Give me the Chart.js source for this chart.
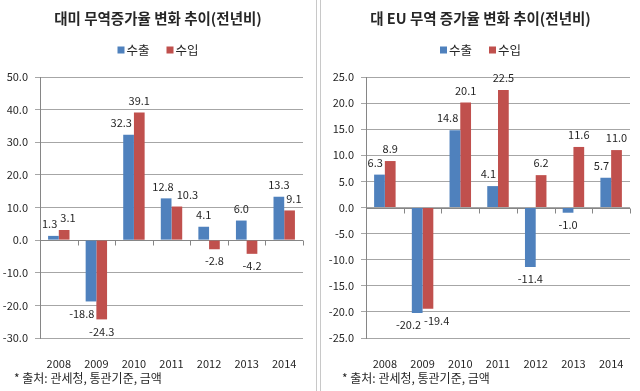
<!DOCTYPE html>
<html>
<head>
<meta charset="utf-8">
<script src="https://cdn.jsdelivr.net/npm/chart.js@4.4.0/dist/chart.umd.min.js"></script>
<style>
body { margin: 0; background: #fff; width: 640px; height: 391px; overflow: hidden; position: relative; font-family: 'Noto Sans CJK KR', sans-serif; }
#left { position: absolute; left: 0; top: 0; }
#right { position: absolute; left: 321px; top: 0; }
.line { position: absolute; top: 0; height: 391px; width: 1px; background: #c8c8c8; }
.note { position: absolute; top: 370px; font-size: 12px; line-height: 16px; color: #262626; white-space: nowrap; }
</style>
</head>
<body>
<canvas id="left" width="316" height="391"></canvas>
<canvas id="right" width="319" height="391"></canvas>
<div class="line" style="left:316px"></div>
<div class="line" style="left:320px"></div>
<div class="note" style="left:14px">* 출처: 관세청, 통관기준, 금액</div>
<div class="note" style="left:342px">* 출처: 관세청, 통관기준, 금액</div>
<script>
var years = ['2008', '2009', '2010', '2011', '2012', '2013', '2014'];
var seriesNames = ['수출', '수입'];
var usExport = [1.3, -18.8, 32.3, 12.8, 4.1, 6.0, 13.3];
var usImport = [3.1, -24.3, 39.1, 10.3, -2.8, -4.2, 9.1];
var euExport = [6.3, -20.2, 14.8, 4.1, -11.4, -1.0, 5.7];
var euImport = [8.9, -19.4, 20.1, 22.5, 6.2, 11.6, 11.0];
var usAxis = [-30, 50, 10];
var euAxis = [-25, 25, 5];

var fontName = '"Noto Sans CJK KR", sans-serif';

// title + legend drawn on top of the canvas
var headPlugin = {
  id: 'head',
  afterDraw: function(chart, args, opts) {
    var ctx = chart.ctx;
    var cx = chart.width / 2;
    ctx.save();
    ctx.fillStyle = '#262626';
    ctx.font = 'bold 14.5px ' + fontName;
    ctx.textAlign = 'center';
    ctx.textBaseline = 'middle';
    ctx.fillText(opts.title, cx, 18);

    ctx.font = '12.5px ' + fontName;
    var items = chart.data.datasets.map(function(d) { return { text: d.label, color: d.backgroundColor }; });
    var box = 7, gap = 2, space = 17;
    var widths = items.map(function(it) { return box + gap + ctx.measureText(it.text).width; });
    var total = widths.reduce(function(a, b) { return a + b; }, 0) + space * (items.length - 1);
    var x = cx - total / 2;
    ctx.textAlign = 'left';
    items.forEach(function(it, i) {
      ctx.fillStyle = it.color;
      ctx.fillRect(x, 50 - box / 2, box, box);
      ctx.fillStyle = '#262626';
      ctx.fillText(it.text, x + box + gap, 50);
      x += widths[i] + space;
    });
    ctx.restore();
  }
};

// zero line with small tick marks between categories
var zeroAxis = {
  id: 'zeroAxis',
  beforeDatasetsDraw: function(chart) {
    var ctx = chart.ctx, a = chart.chartArea;
    var y0 = Math.round(chart.scales.y.getPixelForValue(0)) + 0.5;
    var n = chart.data.labels.length;
    ctx.save();
    ctx.strokeStyle = '#868686';
    ctx.lineWidth = 1;
    ctx.beginPath();
    ctx.moveTo(a.left, y0);
    ctx.lineTo(a.right, y0);
    for (var i = 0; i <= n; i++) {
      var px = Math.round(a.left + (a.right - a.left) * i / n) + 0.5;
      ctx.moveTo(px, y0);
      ctx.lineTo(px, y0 + 5);
    }
    ctx.stroke();
    ctx.restore();
  }
};

// value labels at bar ends, pushed aside if they sit on the other bar or label
var valueLabels = {
  id: 'valueLabels',
  afterDatasetsDraw: function(chart) {
    var ctx = chart.ctx;
    ctx.save();
    ctx.font = '11px ' + fontName;
    ctx.fillStyle = '#262626';
    ctx.textAlign = 'center';
    ctx.textBaseline = 'middle';
    var h = 12;
    var metas = chart.data.datasets.map(function(d, i) { return chart.getDatasetMeta(i); });
    var n = chart.data.labels.length;
    for (var j = 0; j < n; j++) {
      var boxes = metas.map(function(meta, di) {
        var bar = meta.data[j];
        var v = chart.data.datasets[di].data[j];
        var txt = v.toFixed(1);
        var w = ctx.measureText(txt).width;
        var cy = v >= 0 ? bar.y - 6 - h / 2 : bar.y + 6 + h / 2;
        var cx = bar.x;
        metas.forEach(function(other, oi) {
          if (oi === di) return;
          var ob = other.data[j];
          var top = Math.min(ob.y, ob.base), bottom = Math.max(ob.y, ob.base);
          var half = ob.width / 2;
          var overlapY = cy + h / 2 > top && cy - h / 2 < bottom;
          var overlapX = cx + w / 2 > ob.x - half && cx - w / 2 < ob.x + half;
          if (overlapY && overlapX) {
            cx = ob.x < bar.x ? ob.x + half + w / 2 + 2 : ob.x - half - w / 2 - 2;
          }
        });
        return { txt: txt, w: w, cx: cx, cy: cy };
      });
      // two labels of one year that collide: spread them apart
      var a = boxes[0], b = boxes[1];
      if (Math.abs(a.cy - b.cy) < h && b.cx - a.cx < (a.w + b.w) / 2 + 3) {
        var need = (a.w + b.w) / 2 + 3 - (b.cx - a.cx);
        a.cx -= need / 2;
        b.cx += need / 2;
      }
      boxes.forEach(function(bx) { ctx.fillText(bx.txt, bx.cx, bx.cy); });
    }
    ctx.restore();
  }
};

function makeChart(id, exp, imp, axis, title, yWidth, rightPad) {
  return new Chart(document.getElementById(id), {
    type: 'bar',
    data: {
      labels: years,
      datasets: [
        { label: seriesNames[0], data: exp, backgroundColor: '#4F81BD' },
        { label: seriesNames[1], data: imp, backgroundColor: '#C0504D' }
      ]
    },
    options: {
      responsive: false,
      animation: false,
      layout: { padding: { top: 77, right: rightPad, bottom: 23, left: 0 } },
      datasets: { bar: { barPercentage: 1, categoryPercentage: 0.57 } },
      plugins: {
        legend: { display: false },
        tooltip: { enabled: false },
        head: { title: title }
      },
      scales: {
        x: {
          grid: { display: false },
          border: { display: false },
          ticks: { color: '#262626', padding: 11, font: { family: fontName, size: 11 } },
          afterFit: function(s) { s.height = 30; }
        },
        y: {
          min: axis[0],
          max: axis[1],
          grid: { color: '#a6a6a6', tickLength: 5 },
          border: { color: '#868686' },
          ticks: {
            stepSize: axis[2],
            color: '#262626',
            padding: 7,
            font: { family: fontName, size: 11 },
            callback: function(v) { return v.toFixed(1); }
          },
          afterFit: function(s) { s.width = yWidth; }
        }
      }
    },
    plugins: [headPlugin, zeroAxis, valueLabels]
  });
}

makeChart('left', usExport, usImport, usAxis, '대미 무역증가율 변화 추이(전년비)', 40, 13);
makeChart('right', euExport, euImport, euAxis, '대 EU 무역 증가율 변화 추이(전년비)', 45, 10);
</script>
</body>
</html>
